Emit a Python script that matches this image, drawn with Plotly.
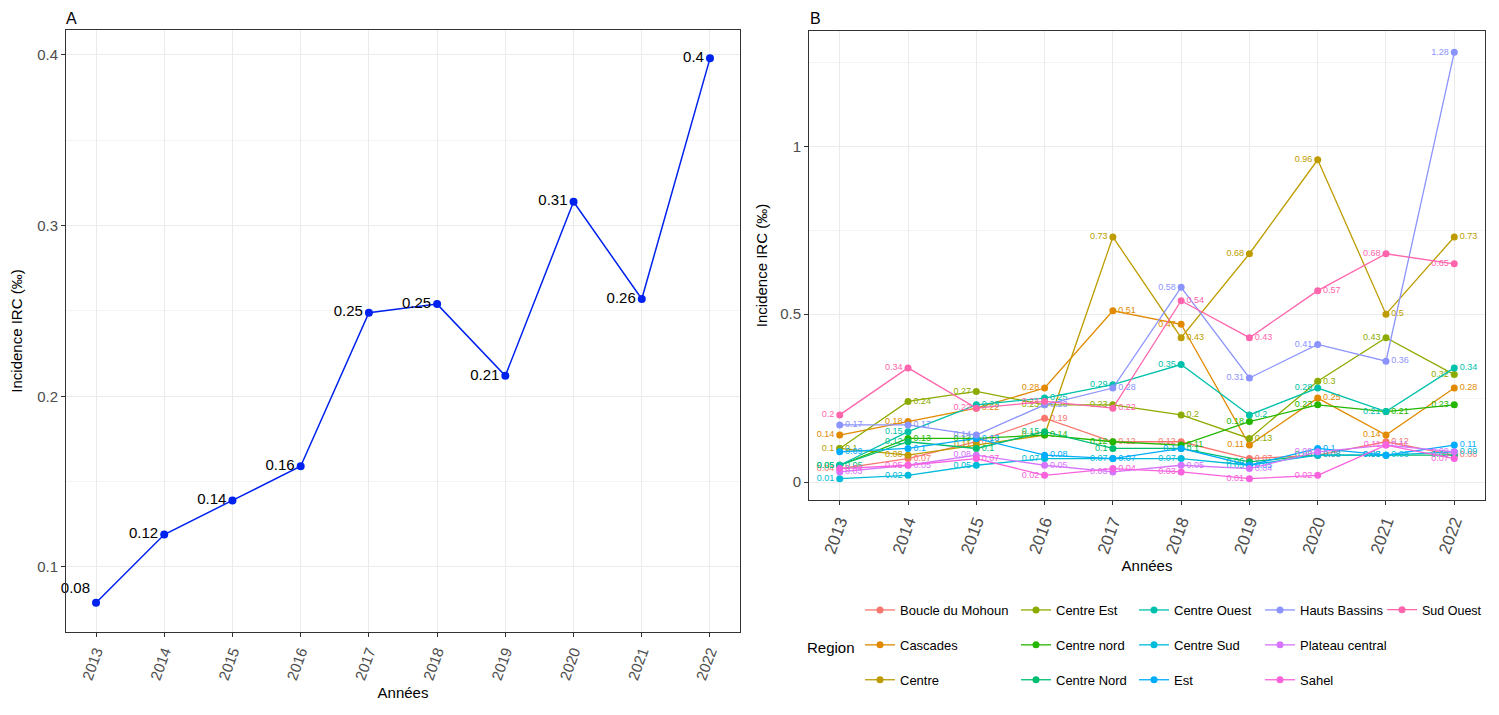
import plotly.graph_objects as go

W, H = 1499, 715
OFF = 8  # page body margin
FW, FH = W - OFF, H - 2 * OFF

years = [2013, 2014, 2015, 2016, 2017, 2018, 2019, 2020, 2021, 2022]
national = [0.079, 0.119, 0.139, 0.159, 0.249, 0.254, 0.212, 0.314, 0.257, 0.398]

regions = ["Boucle du Mohoun", "Cascades", "Centre", "Centre Est", "Centre nord",
           "Centre Nord", "Centre Ouest", "Centre Sud", "Est", "Hauts Bassins",
           "Plateau central", "Sahel", "Sud Ouest"]
colors = ["#F8766D", "#E18A00", "#BE9C00", "#8CAB00", "#24B700", "#00BE70",
          "#00C1AB", "#00BBDA", "#00ACFC", "#8B93FF", "#D575FE", "#F962DD", "#FF65AC"]

boucle = [0.04, 0.07, 0.12, 0.19, 0.12, 0.12, 0.07, 0.08, 0.12, 0.08]
cascades = [0.14, 0.18, 0.22, 0.28, 0.51, 0.47, 0.11, 0.25, 0.14, 0.28]
centre = [0.1, 0.08, 0.11, 0.14, 0.73, 0.43, 0.68, 0.96, 0.5, 0.73]
centre_est = [0.1, 0.24, 0.27, 0.23, 0.23, 0.2, 0.13, 0.3, 0.43, 0.32]
centre_nord_a = [0.05, 0.13, 0.13, 0.14, 0.12, 0.11, 0.18, 0.23, 0.21, 0.23]
centre_nord_b = [0.05, 0.12, 0.1, 0.15, 0.1, 0.1, 0.06, 0.08, 0.08, 0.08]
centre_ouest = [0.05, 0.15, 0.23, 0.25, 0.29, 0.35, 0.2, 0.28, 0.21, 0.34]
centre_sud = [0.01, 0.02, 0.05, 0.07, 0.07, 0.07, 0.05, 0.08, 0.08, 0.09]
est = [0.09, 0.1, 0.13, 0.08, 0.07, 0.1, 0.05, 0.1, 0.08, 0.11]
hauts_bassins = [0.17, 0.17, 0.14, 0.23, 0.28, 0.58, 0.31, 0.41, 0.36, 1.28]
plateau_central = [0.03, 0.05, 0.08, 0.05, 0.03, 0.05, 0.04, 0.09, 0.11, 0.09]
sahel = [0.04, 0.05, 0.07, 0.02, 0.04, 0.03, 0.01, 0.02, 0.11, 0.07]
sud_ouest = [0.2, 0.34, 0.22, 0.24, 0.22, 0.54, 0.43, 0.57, 0.68, 0.65]

series = [boucle, cascades, centre, centre_est, centre_nord_a, centre_nord_b,
          centre_ouest, centre_sud, est, hauts_bassins, plateau_central, sahel, sud_ouest]

FONT = "Liberation Sans, Arial, sans-serif"


def lab(v):
    return f"{round(v, 2):g}"


def px(x):
    return min(1.0, max(0.0, (x - OFF) / FW))


def py(y):
    return min(1.0, max(0.0, 1 - (y - OFF) / FH))


# label sides for panel B: alternate left/right by rank within each year
sides = [[None] * len(years) for _ in series]
for j in range(len(years)):
    order = sorted(range(len(series)), key=lambda i: series[i][j])
    for r, i in enumerate(order):
        sides[i][j] = "middle left" if r % 2 == 0 else "middle right"

fig = go.Figure()

# Panel A
fig.add_trace(go.Scatter(
    x=years, y=national, mode="lines+markers+text",
    line=dict(color="#0022EE", width=1.5),
    marker=dict(color="#0022EE", size=8),
    text=[lab(v) for v in national],
    textposition=["top left"] + ["middle left"] * 9,
    textfont=dict(size=15, color="black", family=FONT),
    showlegend=False, xaxis="x", yaxis="y", cliponaxis=False))

# Panel B
col_groups = [[0, 1, 2], [3, 4, 5], [6, 7, 8], [9, 10, 11], [12]]
legend_of = {}
for ci, grp in enumerate(col_groups):
    for i in grp:
        legend_of[i] = "legend" if ci == 0 else f"legend{ci + 1}"

for i, (name, vals, c) in enumerate(zip(regions, series, colors)):
    fig.add_trace(go.Scatter(
        x=years, y=vals, mode="lines+markers+text", name=name,
        line=dict(color=c, width=1.3),
        marker=dict(color=c, size=7),
        text=[lab(v) for v in vals],
        textposition=sides[i],
        textfont=dict(size=9, color=c, family=FONT),
        legendgroup=name, legend=legend_of[i],
        xaxis="x2", yaxis="y2", cliponaxis=False))

grid_major = "#EBEBEB"
grid_minor = "#F4F4F4"
axcommon = dict(showline=True, mirror=True, linecolor="#333333", linewidth=1,
                ticks="outside", ticklen=4, tickcolor="#333333", automargin=False,
                gridcolor=grid_major, gridwidth=1, zeroline=False)

legend_xs = [880, 1036, 1154, 1280, 1402]
legend_common = dict(yanchor="top", xanchor="left", orientation="v",
                     font=dict(size=13, family=FONT, color="black"),
                     tracegroupgap=15, itemwidth=30, bgcolor="rgba(0,0,0,0)")

layout = dict(
    width=FW, height=FH, margin=dict(l=0, r=0, t=0, b=0, autoexpand=False),
    paper_bgcolor="white", plot_bgcolor="white",
    font=dict(family=FONT, color="black"),
    xaxis=dict(domain=[px(66), px(740)], range=[2012.56, 2022.44], tickvals=years,
               ticktext=[str(y) for y in years], tickangle=-70,
               tickfont=dict(size=15, color="#4D4D4D"),
               title=dict(text="Années", font=dict(size=15), standoff=6), **axcommon),
    yaxis=dict(domain=[py(632), py(30)], range=[0.0619, 0.4146], tickvals=[0.1, 0.2, 0.3, 0.4],
               ticktext=["0.1", "0.2", "0.3", "0.4"], tickfont=dict(size=15, color="#4D4D4D"),
               minor=dict(tickvals=[0.15, 0.25, 0.35], showgrid=True, gridcolor=grid_minor, ticks=""),
               title=dict(text="Incidence IRC (‰)", font=dict(size=15), standoff=10),
               anchor="x", **axcommon),
    xaxis2=dict(domain=[px(809), px(1485)], range=[2012.55, 2022.45], tickvals=years,
                ticktext=[str(y) for y in years], tickangle=-70,
                tickfont=dict(size=17, color="#4D4D4D"),
                title=dict(text="Années", font=dict(size=15), standoff=4),
                anchor="y2", **axcommon),
    yaxis2=dict(domain=[py(500), py(31)], range=[-0.0535, 1.3435], tickvals=[0, 0.5, 1],
                ticktext=["0", "0.5", "1"], tickfont=dict(size=15, color="#4D4D4D"),
                minor=dict(tickvals=[0.25, 0.75, 1.25], showgrid=True, gridcolor=grid_minor, ticks=""),
                title=dict(text="Incidence IRC (‰)", font=dict(size=15), standoff=8),
                anchor="x2", **axcommon),
    annotations=[
        dict(text="A", x=px(64), y=1, xref="paper", yref="paper", showarrow=False,
             xanchor="left", yanchor="top", font=dict(size=16, color="black")),
        dict(text="B", x=px(808), y=1, xref="paper", yref="paper", showarrow=False,
             xanchor="left", yanchor="top", font=dict(size=16, color="black")),
        dict(text="Region", x=px(805), y=py(647), xref="paper", yref="paper", showarrow=False,
             xanchor="left", yanchor="middle", font=dict(size=15, color="black")),
    ],
)
for ci, lx in enumerate(legend_xs):
    key = "legend" if ci == 0 else f"legend{ci + 1}"
    layout[key] = dict(x=px(lx - 20), y=py(595), **legend_common)
layout["legend5"]["font"] = dict(size=12.5, family=FONT, color="black")

fig.update_layout(**layout)
fig.write_html("out.html")
